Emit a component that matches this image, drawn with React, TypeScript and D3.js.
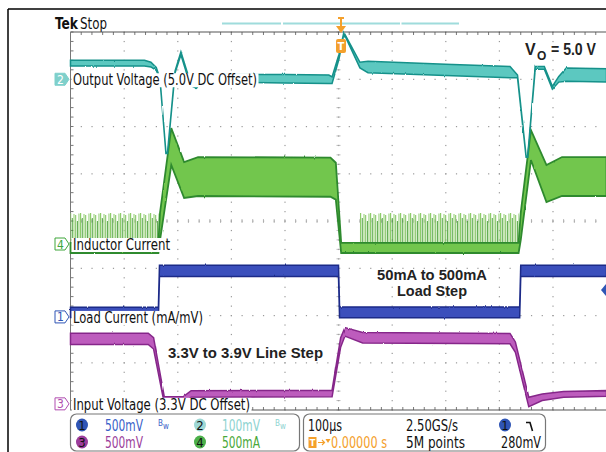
import React from "react";
import * as d3 from "d3";

// ---------- data (time in µs, values in channel units) ----------
// Ch2 output voltage: [t, centre mV (deviation from 5.0 V), half band mV]
const ch2Trace: [number, number, number][] = [
  [-500, 34, 6], [-362, 34, 6], [-350, 31, 5], [-340, 22, 3], [-333, 0, 1.2],
  [-322, -156, 1.2], [-319, -156, 1.2], [-305, 15, 2], [-294, 55, 3], [-284, 18, 3],
  [-276, -10, 3], [-265, -16, 3], [-255, 2, 6], [-240, 2, 8], [-100, 1, 9],
  [-18, 0, 9], [-12, -2, 7], [1, 48, 5], [10, 98, 1.2], [40, 30, 6], [55, 26, 12],
  [200, 20, 12], [320, 15, 12], [334, 6, 3], [350, -164, 1.2], [353, -164, 1.2],
  [367, 24, 3], [384, 24, 3], [399, -18, 3], [411, 0, 6], [425, 10, 14], [500, 8, 14],
];
// Ch4 inductor current solid band: [t, upper mA, lower mA]
const ch4Band: [number, number, number][] = [
  [-500, 11, -95], [-336, 11, -95], [-333, 330, 40], [-312, 1227, 836], [-288, 868, 487],
  [-262, 920, 508], [-15, 915, 500], [-5, 860, 470], [5, 11, -95], [336, 11, -95],
  [340, 330, 40], [359, 1206, 889], [388, 836, 444], [417, 920, 508], [500, 920, 508],
];
// Ch4 pulse-skipping regions: [t, top mA, bottom mA]
const ch4PulsesA: [number, number, number][] = [[-500, 328, 11], [-335, 328, 11]];
const ch4PulsesB: [number, number, number][] = [[40, 328, 11], [337, 328, 11]];
// Ch1 load current: [t, centre mA, half band mA]
const ch1Trace: [number, number, number][] = [
  [-500, 48, 55], [-336, 48, 55], [-334, 487, 60], [0, 487, 60], [2, 48, 58],
  [338, 48, 58], [340, 487, 60], [500, 487, 60],
];
// Ch3 input voltage: [t, centre mV (deviation from 3.3 V), half band mV]
const ch3Trace: [number, number, number][] = [
  [-500, 688, 60], [-355, 688, 60], [-345, 640, 60], [-325, 40, 35], [-290, 40, 35],
  [-275, 105, 35], [-12, 110, 35], [4, 650, 50], [12, 762, 45], [45, 700, 55],
  [320, 690, 55], [330, 600, 55], [355, 20, 50], [380, 70, 35], [420, 100, 30], [500, 110, 30],
];

const channelNames = ["Output Voltage (5.0V DC Offset)", "Inductor Current", "Load Current (mA/mV)", "Input Voltage (3.3V DC Offset)"];
const legendRows = [
  ["1", "500mV", "2", "100mV"],
  ["3", "500mV", "4", "500mA"],
];
const timeInfo = ["100µs", "2.50GS/s", "0.00000 s", "5M points", "280mV"];
const annotations = ["50mA to 500mA", "Load Step", "3.3V to 3.9V Line Step"];

// ---------- layout ----------
const W = 606, H = 452;
const x = d3.scaleLinear().domain([-500, 500]).range([70.5, 606.5]);
const y = d3.scaleLinear().domain([-4, 4]).range([410, 32]);
const ch = {
  c2: { pos: 3.0, scale: 100 },
  c4: { pos: -0.487, scale: 500 },
  c1: { pos: -2.03, scale: 500 },
  c3: { pos: -3.87, scale: 500 },
};
const yc = (c: { pos: number; scale: number }, v: number) => y(c.pos + v / c.scale);

const TEAL_F = "#5cc8c0", TEAL_S = "#14918a";
const GREEN_F = "#72c64e", GREEN_S = "#2f8a2f";
const BLUE_F = "#3a50bc", BLUE_S = "#1c2a88";
const PURP_F = "#bd5cbd", PURP_S = "#86288a";
const ORANGE = "#f4a02c";
const FONT = "'Liberation Sans Narrow','DejaVu Sans Condensed','Roboto Condensed',Roboto,sans-serif";
const BOLD = "'Liberation Sans',Arial,sans-serif";

function bandArea(c: { pos: number; scale: number }) {
  return d3
    .area<[number, number, number]>()
    .x((d) => x(d[0]))
    .y0((d) => yc(c, d[1] - d[2]))
    .y1((d) => yc(c, d[1] + d[2]));
}
function envArea(c: { pos: number; scale: number }) {
  return d3
    .area<[number, number, number]>()
    .x((d) => x(d[0]))
    .y0((d) => yc(c, d[2]))
    .y1((d) => yc(c, d[1]));
}

function Marker({ cy, label, color, filled }: { cy: number; label: string; color: string; filled?: boolean }) {
  const x0 = 55;
  return (
    <g>
      <path
        d={`M${x0},${cy - 6} h10 l4,6 l-4,6 h-10 z`}
        fill={filled ? color : "#fff"}
        stroke={color}
        strokeWidth={1}
      />
      <text x={x0 + 5.5} y={cy + 4.5} textAnchor="middle" fontSize={12} fontFamily={FONT} fill={filled ? "#fff" : color}>
        {label}
      </text>
    </g>
  );
}

function Label({ cy, text, len }: { cy: number; text: string; len: number }) {
  return (
    <g>
      <rect x={71.5} y={cy - 6} width={len + 3} height={14} fill="#fff" />
      <text x={73} y={cy + 6} fontSize={15} fontFamily={FONT} fill="#111" textLength={len} lengthAdjust="spacingAndGlyphs">
        {text}
      </text>
    </g>
  );
}

function Grid() {
  const els: React.ReactNode[] = [];
  const xs = d3.range(0, 11).map((i) => x(-500 + i * 100));
  const ys = d3.range(0, 9).map((i) => y(-4 + i));
  xs.forEach((gx, i) => {
    if (i === 0) return;
    d3.range(0, 41).forEach((k) => {
      const gy = y(-4 + k / 5);
      els.push(<rect key={`v${i}-${k}`} x={gx - 0.5} y={gy - 0.5} width={1.2} height={1.2} fill="#9a9a9a" />);
    });
  });
  ys.forEach((gy, j) => {
    if (j === 0 || j === 8) return;
    d3.range(0, 51).forEach((k) => {
      const gx = x(-500 + k * 20);
      els.push(<rect key={`h${j}-${k}`} x={gx - 0.5} y={gy - 0.5} width={1.2} height={1.2} fill="#9a9a9a" />);
    });
  });
  d3.range(0, 51).forEach((k) => {
    const gx = x(-500 + k * 20);
    els.push(<line key={`ct${k}`} x1={gx} x2={gx} y1={y(0) - 2} y2={y(0) + 2} stroke="#aaa" strokeWidth={0.8} />);
  });
  d3.range(0, 41).forEach((k) => {
    const gy = y(-4 + k / 5);
    els.push(<line key={`cv${k}`} x1={x(0) - 2} x2={x(0) + 2} y1={gy} y2={gy} stroke="#aaa" strokeWidth={0.8} />);
  });
  d3.range(0, 51).forEach((k) => {
    const gx = x(-500 + k * 20);
    els.push(<line key={`bt${k}`} x1={gx} x2={gx} y1={32} y2={35} stroke="#555" strokeWidth={0.8} />);
    els.push(<line key={`bb${k}`} x1={gx} x2={gx} y1={407} y2={410} stroke="#555" strokeWidth={0.8} />);
  });
  d3.range(0, 41).forEach((k) => {
    const gy = y(-4 + k / 5);
    els.push(<line key={`bl${k}`} x1={70.5} x2={73.5} y1={gy} y2={gy} stroke="#555" strokeWidth={0.8} />);
  });
  return (
    <g>
      {els}
      <line x1={70.5} x2={606} y1={32} y2={32} stroke="#555" strokeWidth={1.2} />
      <line x1={70.5} x2={606} y1={410} y2={410} stroke="#555" strokeWidth={1.2} />
      <line x1={70.5} x2={70.5} y1={32} y2={410} stroke="#777" strokeWidth={1} />
    </g>
  );
}

export default function App() {
  const a2 = bandArea(ch.c2);
  const a1 = bandArea(ch.c1);
  const a3 = bandArea(ch.c3);
  const a4 = envArea(ch.c4);
  return (
    <svg width={W} height={H} style={{ position: "absolute", left: 0, top: 0, background: "#fff" }}>
      <defs>
        <pattern id="pulses" patternUnits="userSpaceOnUse" x={0} y={200} width={10} height={60}>
          <rect x={0} y={13} width={1.2} height={47} fill="#8fcc6c" />
          <rect x={1.8} y={18} width={0.9} height={42} fill="#3f9a2e" />
          <rect x={3.4} y={14} width={1.2} height={46} fill="#a4d886" />
          <rect x={5.2} y={15} width={1} height={45} fill="#7cc05a" />
          <rect x={6.9} y={21} width={0.9} height={39} fill="#3f9a2e" />
          <rect x={8.4} y={13.5} width={1.1} height={46} fill="#98d27a" />
        </pattern>
        <filter id="noise" x="-5%" y="-20%" width="110%" height="140%">
          <feTurbulence type="fractalNoise" baseFrequency="0.9 0.05" numOctaves={1} seed={3} result="n" />
          <feDisplacementMap in="SourceGraphic" in2="n" scale={2.2} xChannelSelector="R" yChannelSelector="G" />
        </filter>
      </defs>
      <rect x={0} y={0} width={W} height={H} fill="#fff" />
      <line x1={8} x2={W} y1={9} y2={9} stroke="#000" strokeWidth={1.5} />
      <line x1={8} x2={8} y1={9} y2={H} stroke="#000" strokeWidth={1.5} />

      <text x={55} y={29} fontFamily={FONT} fontWeight="bold" fontSize={16} fill="#111" textLength={23} lengthAdjust="spacingAndGlyphs">Tek</text>
      <text x={80} y={29} fontFamily={FONT} fontSize={15} fill="#111" textLength={27} lengthAdjust="spacingAndGlyphs">Stop</text>
      <line x1={222} x2={281} y1={23.5} y2={23.5} stroke="#9fdcdc" strokeWidth={2} />
      <line x1={283} x2={400} y1={23.5} y2={23.5} stroke="#9fdcdc" strokeWidth={2} />
      <line x1={401.5} x2={459} y1={23.5} y2={23.5} stroke="#9fdcdc" strokeWidth={2} />

      <Grid />

      <path d={a4(ch4PulsesA) || ""} fill="url(#pulses)" />
      <path d={a4(ch4PulsesB) || ""} fill="url(#pulses)" />
      <g filter="url(#noise)">
        <path d={a4(ch4Band) || ""} fill={GREEN_F} stroke={GREEN_S} strokeWidth={1.8} />
        <path d={a1(ch1Trace) || ""} fill={BLUE_F} stroke={BLUE_S} strokeWidth={1.5} />
        <path d={a3(ch3Trace) || ""} fill={PURP_F} stroke={PURP_S} strokeWidth={1.5} />
        <path d={a2(ch2Trace) || ""} fill={TEAL_F} stroke={TEAL_S} strokeWidth={1.5} />
      </g>

      <rect x={338} y={17} width={6} height={2} fill={ORANGE} />
      <line x1={341} x2={341} y1={19} y2={27} stroke={ORANGE} strokeWidth={2} />
      <path d="M336,26 h10 l-5,7 z" fill={ORANGE} />
      <rect x={336} y={39} width={10} height={14} rx={2} fill={ORANGE} />
      <text x={341} y={50} textAnchor="middle" fontSize={11} fontFamily={FONT} fontWeight="bold" fill="#fff">T</text>
      <path d="M606,284 l-5,6 l5,6 z" fill="#2f55b5" />

      <Marker cy={y(ch.c2.pos)} label="2" color="#7fd0cb" filled />
      <Label cy={y(ch.c2.pos)} text={channelNames[0]} len={184} />
      <Marker cy={y(ch.c4.pos)} label="4" color="#3ea63a" />
      <Label cy={y(ch.c4.pos)} text={channelNames[1]} len={97} />
      <Marker cy={y(ch.c1.pos)} label="1" color="#2f55b5" />
      <Label cy={y(ch.c1.pos)} text={channelNames[2]} len={130} />
      <Marker cy={y(ch.c3.pos)} label="3" color="#b04db0" />
      <Label cy={y(ch.c3.pos)} text={channelNames[3]} len={177} />

      <text x={525} y={55} fontFamily={BOLD} fontWeight="bold" fontSize={16} fill="#222">V</text>
      <text x={537} y={60} fontFamily={BOLD} fontWeight="bold" fontSize={12} fill="#222">O</text>
      <text x={551} y={55} fontFamily={BOLD} fontWeight="bold" fontSize={16} fill="#222" textLength={45} lengthAdjust="spacingAndGlyphs">= 5.0 V</text>
      <text x={432} y={280} textAnchor="middle" fontFamily={BOLD} fontWeight="bold" fontSize={15} fill="#222" textLength={110} lengthAdjust="spacingAndGlyphs">{annotations[0]}</text>
      <text x={432} y={296} textAnchor="middle" fontFamily={BOLD} fontWeight="bold" fontSize={15} fill="#222" textLength={70} lengthAdjust="spacingAndGlyphs">{annotations[1]}</text>
      <text x={168} y={358} fontFamily={BOLD} fontWeight="bold" fontSize={15} fill="#222" textLength={155} lengthAdjust="spacingAndGlyphs">{annotations[2]}</text>

      <rect x={70.5} y={414} width={229} height={37} rx={6} fill="#fff" stroke="#777" strokeWidth={1.2} />
      <rect x={303.5} y={414} width={242} height={37} rx={6} fill="#fff" stroke="#777" strokeWidth={1.2} />
      {legendRows.map((row, r) => {
        const cy = 425 + r * 17;
        const cols = [
          { n: row[0], v: row[1], cx: 82, tx: 105, fill: r === 0 ? "#2f55b5" : "#9c3c9c", tc: r === 0 ? "#3a5fc8" : "#9b3e9b" },
          { n: row[2], v: row[3], cx: 200, tx: 222, fill: r === 0 ? "#9ed8d5" : "#4cb04a", tc: r === 0 ? "#8dd3d0" : "#4aa83a" },
        ];
        return (
          <g key={r}>
            {cols.map((c, i) => (
              <g key={i}>
                <ellipse cx={c.cx} cy={cy} rx={6} ry={6.5} fill={c.fill} />
                <text x={c.cx} y={cy + 4.5} textAnchor="middle" fontSize={13} fontFamily={FONT} fill="#111">{c.n}</text>
                <text x={c.tx} y={cy + 6} fontSize={15} fontFamily={FONT} fill={c.tc} textLength={38} lengthAdjust="spacingAndGlyphs">{c.v}</text>
                {r === 0 && (
                  <text x={c.cx + (i === 0 ? 76 : 75)} y={cy + 1} fontSize={8} fontFamily={FONT} fill={c.tc}>
                    B<tspan dy={3}>w</tspan>
                  </text>
                )}
              </g>
            ))}
          </g>
        );
      })}
      <text x={308} y={431} fontSize={15} fontFamily={FONT} fill="#111" textLength={34} lengthAdjust="spacingAndGlyphs">{timeInfo[0]}</text>
      <text x={406} y={431} fontSize={15} fontFamily={FONT} fill="#111" textLength={52} lengthAdjust="spacingAndGlyphs">{timeInfo[1]}</text>
      <ellipse cx={505} cy={425} rx={6} ry={6.5} fill="#2f55b5" />
      <text x={505} y={429.5} textAnchor="middle" fontSize={13} fontFamily={FONT} fill="#111">1</text>
      <path d="M526,422.5 h4 l2.5,8.5" fill="none" stroke="#111" strokeWidth={1.6} />
      <rect x={308.5} y={437} width={8} height={11} fill={ORANGE} />
      <text x={312.5} y={446} textAnchor="middle" fontSize={9} fontFamily={FONT} fontWeight="bold" fill="#fff">T</text>
      <path d="M318,442.5 h6 M322,440 l2.5,2.5 l-2.5,2.5" stroke={ORANGE} strokeWidth={1.2} fill="none" />
      <path d="M325.5,439 h5 l-2.5,4 z" fill={ORANGE} />
      <text x={331} y={448} fontSize={15} fontFamily={FONT} fill={ORANGE} textLength={56} lengthAdjust="spacingAndGlyphs">{timeInfo[2]}</text>
      <text x={406} y={448} fontSize={15} fontFamily={FONT} fill="#111" textLength={59} lengthAdjust="spacingAndGlyphs">{timeInfo[3]}</text>
      <text x={501} y={448} fontSize={15} fontFamily={FONT} fill="#111" textLength={40} lengthAdjust="spacingAndGlyphs">{timeInfo[4]}</text>
    </svg>
  );
}
